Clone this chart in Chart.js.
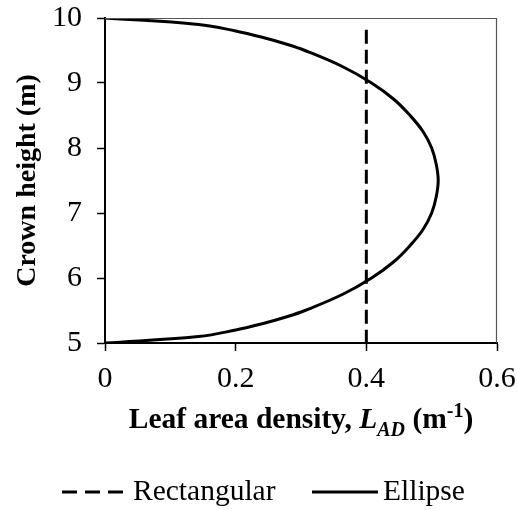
<!DOCTYPE html>
<html>
<head>
<meta charset="utf-8">
<script src="https://cdn.jsdelivr.net/npm/chart.js@4/dist/chart.umd.min.js"></script>
<style>
html,body{margin:0;padding:0;background:#fff;}
#wrap{position:relative;width:517px;height:510px;}
</style>
</head>
<body>
<div id="wrap"><canvas id="c" width="517" height="510"></canvas></div>
<script>
// ---- data ----
const seriesNames = ['Rectangular', 'Ellipse'];
const rectLAD    = [0.4, 0.4];
const rectHeight = [9.82, 5];
const ellipseLAD    = [0, 0.143, 0.200, 0.242, 0.277, 0.306, 0.364, 0.408, 0.442, 0.467, 0.487, 0.500, 0.507, 0.510, 0.507, 0.500, 0.487, 0.467, 0.442, 0.408, 0.364, 0.306, 0.277, 0.242, 0.200, 0.143, 0];
const ellipseHeight = [5, 5.1, 5.2, 5.3, 5.4, 5.5, 5.75, 6, 6.25, 6.5, 6.75, 7, 7.25, 7.5, 7.75, 8, 8.25, 8.5, 8.75, 9, 9.25, 9.5, 9.6, 9.7, 9.8, 9.9, 10];
const xTickLabels = ['0', '0.2', '0.4', '0.6'];
const yTickLabels = ['5', '6', '7', '8', '9', '10'];
const yTitle = 'Crown height (m)';
const xTitleParts = [
  {text: 'Leaf area density, ', style: 'bold', size: 29.5, dy: 0},
  {text: 'L', style: 'italic bold', size: 29.5, dy: 0},
  {text: 'AD', style: 'italic bold', size: 20, dy: 8},
  {text: ' (m', style: 'bold', size: 29.5, dy: 0},
  {text: '-1', style: 'bold', size: 20, dy: -11},
  {text: ')', style: 'bold', size: 29.5, dy: 0}
];

const FONT = "'Liberation Serif', 'Times New Roman', serif";

const toPts = (xs, ys) => xs.map((x, i) => ({x: x, y: ys[i]}));

const framePlugin = {
  id: 'frameAndTitle',
  afterDraw(chart) {
    const ctx = chart.ctx;
    const a = chart.chartArea;
    ctx.save();
    // thin top/right frame
    ctx.strokeStyle = '#555';
    ctx.lineWidth = 1.2;
    ctx.beginPath();
    ctx.moveTo(a.left, a.top + 0.5);
    ctx.lineTo(a.right - 0.5, a.top + 0.5);
    ctx.lineTo(a.right - 0.5, a.bottom);
    ctx.stroke();
    // x axis title with italic subscript and superscript
    ctx.fillStyle = '#000';
    ctx.textBaseline = 'alphabetic';
    ctx.textAlign = 'left';
    let total = 0;
    xTitleParts.forEach(p => {
      ctx.font = p.style + ' ' + p.size + 'px ' + FONT;
      p.w = ctx.measureText(p.text).width;
      total += p.w;
    });
    let x = (a.left + a.right) / 2 - total / 2;
    const base = a.bottom + 85;
    xTitleParts.forEach(p => {
      ctx.font = p.style + ' ' + p.size + 'px ' + FONT;
      ctx.fillText(p.text, x, base + p.dy);
      x += p.w;
    });
    // legend (drawn from the datasets' own styles)
    const ly = 492;
    const items = [{x: 62, w: 66}, {x: 312, w: 66}];
    ctx.font = '29.5px ' + FONT;
    ctx.textBaseline = 'alphabetic';
    chart.data.datasets.forEach((ds, i) => {
      const it = items[i];
      ctx.save();
      ctx.strokeStyle = ds.borderColor;
      ctx.lineWidth = ds.borderWidth;
      ctx.lineCap = 'butt';
      ctx.setLineDash(ds.borderDash ? [15, 8] : []);
      ctx.beginPath();
      ctx.moveTo(it.x, ly);
      ctx.lineTo(it.x + it.w, ly);
      ctx.stroke();
      ctx.restore();
      ctx.fillStyle = '#000';
      ctx.fillText(ds.label, it.x + it.w + 5, 500);
    });
    ctx.restore();
  }
};

new Chart(document.getElementById('c'), {
  type: 'scatter',
  data: {
    datasets: [
      {
        label: seriesNames[0],
        data: toPts(rectLAD, rectHeight),
        showLine: true,
        borderColor: '#000',
        backgroundColor: '#000',
        borderWidth: 3,
        borderDash: [14, 6],
        borderCapStyle: 'butt',
        pointRadius: 0,
        tension: 0
      },
      {
        label: seriesNames[1],
        data: toPts(ellipseLAD, ellipseHeight),
        showLine: true,
        borderColor: '#000',
        backgroundColor: '#000',
        borderWidth: 3,
        pointRadius: 0,
        tension: 0.4
      }
    ]
  },
  options: {
    responsive: false,
    animation: false,
    devicePixelRatio: 1,
    layout: {padding: {left: 0, right: 20, top: 18, bottom: 0}},
    plugins: {
      legend: {display: false},
      tooltip: {enabled: false}
    },
    scales: {
      x: {
        type: 'linear',
        min: 0, max: 0.6,
        afterFit(s) { s.height = 167; s.paddingLeft = 0; s.paddingRight = 0; },
        ticks: {
          stepSize: 0.2,
          color: '#000',
          padding: 10,
          font: {family: FONT, size: 30},
          callback: (v) => xTickLabels[Math.round(v * 5)]
        },
        grid: {display: true, drawOnChartArea: false, drawTicks: true, tickLength: 8, tickColor: '#000', tickWidth: 1.5},
        border: {display: true, color: '#000', width: 2}
      },
      y: {
        type: 'linear',
        min: 5, max: 10,
        afterFit(s) { s.width = 105; s.paddingTop = 0; s.paddingBottom = 0; },
        title: {
          display: true,
          text: yTitle,
          color: '#000',
          font: {family: FONT, size: 28, weight: 'bold'},
          padding: {top: 11, bottom: 0}
        },
        ticks: {
          stepSize: 1,
          color: '#000',
          padding: 15,
          font: {family: FONT, size: 30},
          callback: (v) => yTickLabels[Math.round(v - 5)]
        },
        grid: {display: true, drawOnChartArea: false, drawTicks: true, tickLength: 8, tickColor: '#000', tickWidth: 1.5},
        border: {display: true, color: '#000', width: 2}
      }
    }
  },
  plugins: [framePlugin]
});
</script>
</body>
</html>
